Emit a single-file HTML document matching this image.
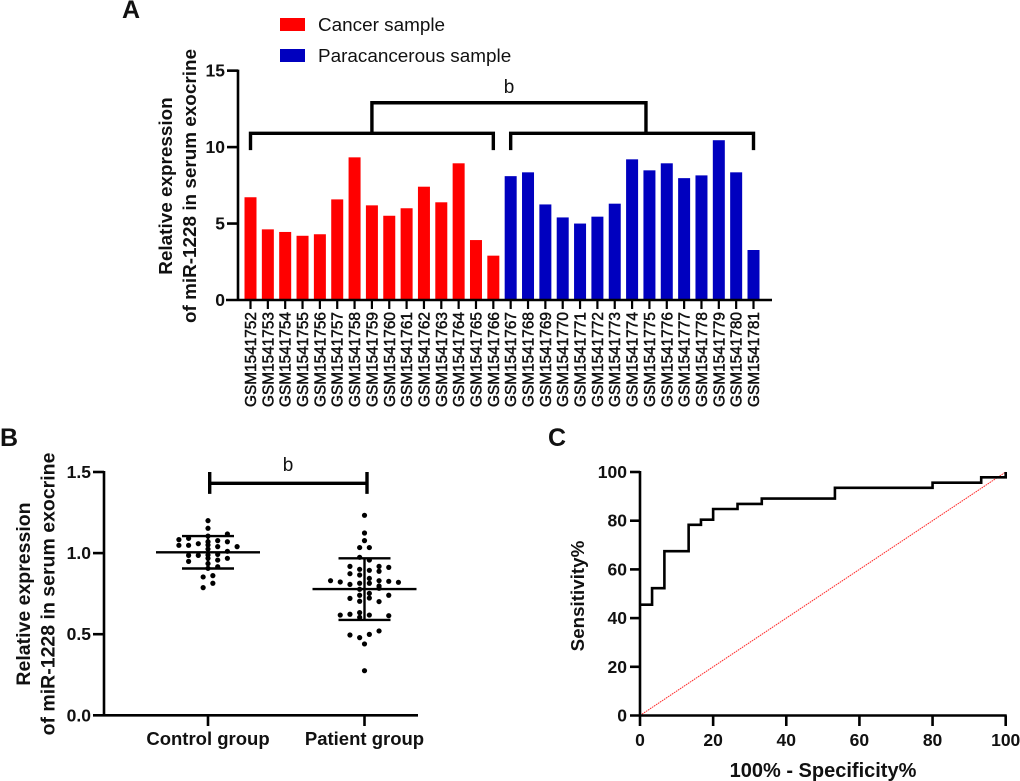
<!DOCTYPE html>
<html lang="en">
<head>
<meta charset="utf-8">
<title>miR-1228 expression in serum exocrine</title>
<style>
html,body{margin:0;padding:0;background:#fff;}
svg{display:block;font-family:"Liberation Sans",Arial,sans-serif;}
</style>
</head>
<body>
<svg id="figure" xmlns="http://www.w3.org/2000/svg" width="1020" height="781" viewBox="0 0 1020 781"></svg>
<script>
// ---------- Panel A data ----------
const sampleIds = ["GSM1541752","GSM1541753","GSM1541754","GSM1541755","GSM1541756","GSM1541757","GSM1541758","GSM1541759","GSM1541760","GSM1541761","GSM1541762","GSM1541763","GSM1541764","GSM1541765","GSM1541766","GSM1541767","GSM1541768","GSM1541769","GSM1541770","GSM1541771","GSM1541772","GSM1541773","GSM1541774","GSM1541775","GSM1541776","GSM1541777","GSM1541778","GSM1541779","GSM1541780","GSM1541781"];
const cancerValues = [6.72,4.62,4.45,4.2,4.3,6.58,9.33,6.19,5.51,6.0,7.41,6.39,8.94,3.92,2.9];
const paracancerousValues = [8.1,8.35,6.25,5.4,5.0,5.45,6.3,9.2,8.48,8.94,7.97,8.15,10.45,8.35,3.27];
const barTicks = [0,5,10,15];

// ---------- Panel B data ----------
const groupNames = ["Control group","Patient group"];
const controlValues = [1.2,1.153,1.105,1.118,1.083,1.091,1.077,1.07,1.07,1.058,1.048,1.048,1.05,1.04,1.025,1.04,1.011,0.988,0.986,0.986,0.992,0.968,0.968,0.949,0.957,0.935,0.906,0.916,0.853,0.861,0.814,0.787];
const controlSlots = [0,0,0,4,-6,-4,2,0,4,-2,-6,-4,0,2,0,6,4,0,-4,-2,2,0,4,-4,2,0,0,2,-1,1,1,-1];
const patientValues = [1.233,1.124,1.077,1.034,1.034,0.974,0.957,0.918,0.918,0.912,0.9,0.894,0.888,0.873,0.865,0.844,0.83,0.822,0.814,0.83,0.826,0.82,0.807,0.814,0.797,0.783,0.777,0.752,0.723,0.74,0.74,0.721,0.703,0.701,0.633,0.623,0.618,0.618,0.614,0.604,0.52,0.499,0.495,0.479,0.44,0.275];
const patientSlots = [0,0,0,-1,1,-1,1,-3,3,5,-1,1,3,-3,-1,1,-7,-5,1,3,5,7,-3,-1,3,3,-1,1,1,-1,5,-3,-1,3,-1,-3,-5,1,5,-1,3,1,-3,-1,0,0];
const groupMeans = [1.005,0.778];
const groupSds = [0.1,0.19];
const scatterTicks = ["0.0","0.5","1.0","1.5"];

// ---------- Panel C data ----------
const rocFpr = [0,3.3,6.67,13.3,16.67,20,26.67,33.3,53.3,80,93.3,100];
const rocTpr = [45.5,52.3,67.5,78.3,80.4,84.8,86.9,89.1,93.5,95.6,97.8,100];
const rocTicks = [0,20,40,60,80,100];

// ---------- helpers ----------
const svg = document.getElementById('figure');
const NS = 'http://www.w3.org/2000/svg';
function mk(tag, attrs, parent) {
  const el = document.createElementNS(NS, tag);
  for (const k in attrs) el.setAttribute(k, attrs[k]);
  (parent || svg).appendChild(el);
  return el;
}
function label(str, x, y, size, weight, anchor, rot, parent) {
  const a = {x:x, y:y, 'font-size':size, 'font-weight':weight, 'text-anchor':anchor, fill:'#111'};
  if (rot) a.transform = 'rotate(-90 ' + x + ' ' + y + ')';
  const t = mk('text', a, parent);
  t.textContent = str;
  return t;
}
function line(x1, y1, x2, y2, w, parent) {
  return mk('line', {x1:x1, y1:y1, x2:x2, y2:y2, stroke:'#000', 'stroke-width':w}, parent);
}
function named(el, name) {
  
  
  return el;
}

// ---------- Panel A ----------
const panelA = mk('g', {});


const ax = i => 250.5 + i * 17.345;
const ay = v => 300 - v * 15.29;

named(label('A', 122, 18, 25, 'bold', 'start', false, panelA), 'panel-label-a');

named(mk('rect', {x:280, y:18, width:25, height:13, fill:'#ff0000'}, panelA), 'legend-swatch-cancer');
named(label('Cancer sample', 318, 31, 18.9, 'normal', 'start', false, panelA), 'legend-label-cancer');
named(mk('rect', {x:280, y:49, width:25, height:13, fill:'#0000bf'}, panelA), 'legend-swatch-paracancerous');
named(label('Paracancerous sample', 318, 62, 18.9, 'normal', 'start', false, panelA), 'legend-label-paracancerous');

const allBars = cancerValues.concat(paracancerousValues);
allBars.forEach(function (v, i) {
  const isCancer = i < cancerValues.length;
  const b = mk('rect', {x:ax(i) - 6, y:ay(v), width:12, height:ay(0) - ay(v), fill:isCancer ? '#ff0000' : '#0000bf'}, panelA);
  
  
});

named(line(238, ay(15) - 1, 238, ay(0) + 1, 2.6, panelA), 'y-axis-a');
named(line(226, ay(0), 772, ay(0), 2.6, panelA), 'x-axis-a');
barTicks.forEach(function (t) {
  if (t > 0) {
    const tk = line(227, ay(t), 238, ay(t), 2.6, panelA);
    
    
  }
  const tl = label(String(t), 225, ay(t) + 6, 17.5, 'bold', 'end', false, panelA);
  
  
});
sampleIds.forEach(function (id, i) {
  const tk = line(ax(i), ay(0), ax(i), 309, 2.2, panelA);
  
  
  const tl = label(id, ax(i) + 5.5, 312, 15.4, 'normal', 'end', true, panelA);
  tl.setAttribute('stroke', '#111');
  tl.setAttribute('stroke-width', '0.5');
  
  
});

named(label('Relative expression', 172, 186, 18.9, 'bold', 'middle', true, panelA), 'y-axis-title-a-line-1');
named(label('of miR-1228 in serum exocrine', 196, 186, 18.9, 'bold', 'middle', true, panelA), 'y-axis-title-a-line-2');

const bracketA = mk('g', {fill:'none', stroke:'#000', 'stroke-width':3.4}, panelA);


const groupTop = ay(10.9), dropTop = ay(9.8), linkTop = ay(12.9);
mk('path', {d:'M' + ax(0) + ' ' + dropTop + 'V' + groupTop + 'H' + ax(14) + 'V' + dropTop}, bracketA);
mk('path', {d:'M' + ax(15) + ' ' + dropTop + 'V' + groupTop + 'H' + ax(29) + 'V' + dropTop}, bracketA);
mk('path', {d:'M' + ax(7) + ' ' + groupTop + 'V' + linkTop + 'H' + ax(22.8) + 'V' + groupTop}, bracketA);
named(label('b', 509, 93, 19, 'normal', 'middle', false, panelA), 'significance-label-a');

// ---------- Panel B ----------
const panelB = mk('g', {});


const by = v => 715.3 - v * 162.2;
const groupCenters = [208, 364.5];
const slotWidth = 4.85;

named(label('B', 0, 446, 25, 'bold', 'start', false, panelB), 'panel-label-b');

[[controlValues, controlSlots], [patientValues, patientSlots]].forEach(function (pair, g) {
  pair[0].forEach(function (v, i) {
    const d = mk('circle', {cx:groupCenters[g] + pair[1][i] * slotWidth, cy:by(v), r:2.6, fill:'#000'}, panelB);
    
    
  });
  const c = groupCenters[g], m = groupMeans[g], s = groupSds[g];
  const meanLine = line(c - 52, by(m), c + 52, by(m), 2.4, panelB);
  
  
  const upper = line(c - 26, by(m + s), c + 26, by(m + s), 2.4, panelB);
  
  
  const lower = line(c - 26, by(m - s), c + 26, by(m - s), 2.4, panelB);
  
  
  const stem = line(c, by(m + s), c, by(m - s), 2.4, panelB);
  
  
  const tk = line(c, by(0), c, 726, 2.6, panelB);
  
  
  const tl = label(groupNames[g], c, 745, 18.5, 'bold', 'middle', false, panelB);
  
  
});

named(line(104, by(1.5) - 1, 104, by(0) + 1, 2.6, panelB), 'y-axis-b');
named(line(93, by(0), 418, by(0), 2.6, panelB), 'x-axis-b');
scatterTicks.forEach(function (t) {
  const v = parseFloat(t);
  if (v > 0) {
    const tk = line(93, by(v), 104, by(v), 2.6, panelB);
    
    
  }
  const tl = label(t, 91, by(v) + 6, 17.5, 'bold', 'end', false, panelB);
  
  
});
named(label('Relative expression', 30, 594, 19.5, 'bold', 'middle', true, panelB), 'y-axis-title-b-line-1');
named(label('of miR-1228 in serum exocrine', 54.5, 594, 19.5, 'bold', 'middle', true, panelB), 'y-axis-title-b-line-2');

const bracketB = mk('path', {fill:'none', stroke:'#000', 'stroke-width':3.4, d:'M209.7 ' + by(1.5) + 'V' + by(1.365) + 'M209.7 ' + by(1.43) + 'H367M367 ' + by(1.5) + 'V' + by(1.365)}, panelB);


named(label('b', 288, 471, 19, 'normal', 'middle', false, panelB), 'significance-label-b');

// ---------- Panel C ----------
const panelC = mk('g', {});


const cx = v => 640 + v * 3.657;
const cy = v => 715.5 - v * 2.435;

named(label('C', 548, 446, 25, 'bold', 'start', false, panelC), 'panel-label-c');

named(mk('line', {x1:cx(0), y1:cy(0), x2:cx(100), y2:cy(100), stroke:'#ff2a2a', 'stroke-width':1, 'stroke-dasharray':'1.6 0.8'}, panelC), 'reference-diagonal');

let rocPath = 'M' + cx(0) + ' ' + cy(rocTpr[0]);
rocFpr.forEach(function (f, i) {
  rocPath += 'H' + cx(f) + 'V' + cy(rocTpr[i]);
});
named(mk('path', {d:rocPath, fill:'none', stroke:'#000', 'stroke-width':2.6}, panelC), 'roc-curve');

named(line(640, cy(100) - 1, 640, 726, 2.6, panelC), 'y-axis-c');
named(line(630, cy(0), cx(100) + 1, cy(0), 2.6, panelC), 'x-axis-c');
rocTicks.forEach(function (t) {
  if (t > 0) {
    const yt = line(630, cy(t), 640, cy(t), 2.6, panelC);
    
    
    const xt = line(cx(t), cy(0), cx(t), 726, 2.6, panelC);
    
    
  }
  const yl = label(String(t), 627, cy(t) + 6, 17.5, 'bold', 'end', false, panelC);
  
  
  const xl = label(String(t), cx(t), 746, 17.5, 'bold', 'middle', false, panelC);
  
  
});
named(label('100% - Specificity%', 823, 777, 20, 'bold', 'middle', false, panelC), 'x-axis-title-c');
named(label('Sensitivity%', 584, 596, 18.8, 'bold', 'middle', true, panelC), 'y-axis-title-c');
</script>
</body>
</html>
